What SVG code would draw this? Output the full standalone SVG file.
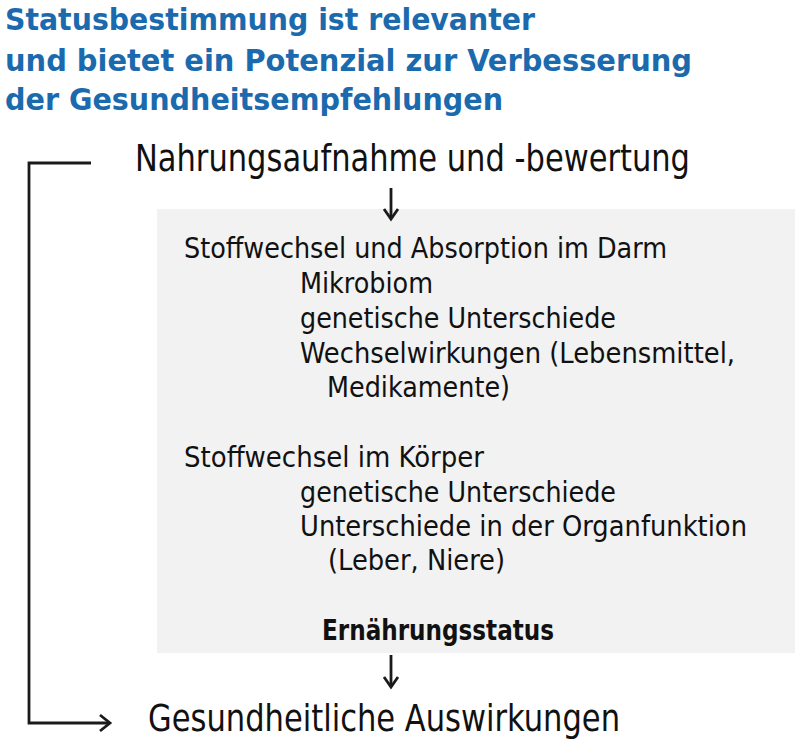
<svg xmlns="http://www.w3.org/2000/svg" width="800" height="740" viewBox="0 0 800 740">
<style>
.title{font-family:"DejaVu Sans Condensed","DejaVu Sans",sans-serif;font-weight:bold;font-size:31px;fill:#1b6aae}
.big{font-family:"DejaVu Sans Condensed","DejaVu Sans",sans-serif;font-size:38px;fill:#111}
.t{font-family:"DejaVu Sans Condensed","DejaVu Sans",sans-serif;font-size:29px;fill:#111}
.b{font-weight:bold}
.ln{fill:none;stroke:#1a1a1a;stroke-width:2.8}
</style>
<rect width="800" height="740" fill="#fff"/>
<g id="title">
<text class="title" x="5" y="30" textLength="530" lengthAdjust="spacingAndGlyphs">Statusbestimmung ist relevanter</text>
<text class="title" x="5" y="71" textLength="687" lengthAdjust="spacingAndGlyphs">und bietet ein Potenzial zur Verbesserung</text>
<text class="title" x="5" y="110" textLength="498" lengthAdjust="spacingAndGlyphs">der Gesundheitsempfehlungen</text>
</g>
<g id="intake">
<text class="big" x="135" y="171" textLength="555" lengthAdjust="spacingAndGlyphs">Nahrungsaufnahme und -bewertung</text>
</g>
<g id="box">
<rect x="157" y="209" width="638" height="444" fill="#f2f2f2"/>
<text class="t" x="184" y="258" textLength="483" lengthAdjust="spacingAndGlyphs">Stoffwechsel und Absorption im Darm</text>
<text class="t" x="300" y="293" textLength="133" lengthAdjust="spacingAndGlyphs">Mikrobiom</text>
<text class="t" x="300" y="328" textLength="316" lengthAdjust="spacingAndGlyphs">genetische Unterschiede</text>
<text class="t" x="300" y="363" textLength="435" lengthAdjust="spacingAndGlyphs">Wechselwirkungen (Lebensmittel,</text>
<text class="t" x="327" y="397" textLength="183" lengthAdjust="spacingAndGlyphs">Medikamente)</text>
<text class="t" x="184" y="467" textLength="300" lengthAdjust="spacingAndGlyphs">Stoffwechsel im Körper</text>
<text class="t" x="300" y="502" textLength="316" lengthAdjust="spacingAndGlyphs">genetische Unterschiede</text>
<text class="t" x="300" y="536" textLength="447" lengthAdjust="spacingAndGlyphs">Unterschiede in der Organfunktion</text>
<text class="t" x="328" y="570" textLength="177" lengthAdjust="spacingAndGlyphs">(Leber, Niere)</text>
<text class="t b" x="322" y="640" textLength="232" lengthAdjust="spacingAndGlyphs">Ernährungsstatus</text>
</g>
<g id="outcome">
<text class="big" x="148" y="731" textLength="472" lengthAdjust="spacingAndGlyphs">Gesundheitliche Auswirkungen</text>
</g>
<g id="connectors">
<path class="ln" d="M91 163 H29 V723 H110"/>
<path class="ln" d="M100 715 L110 723 L100 731"/>
<path class="ln" d="M391 188 V219"/>
<path class="ln" d="M384 209 L391 219 L398 209"/>
<path class="ln" d="M391 655 V687"/>
<path class="ln" d="M384 677 L391 687 L398 677"/>
</g>
</svg>
